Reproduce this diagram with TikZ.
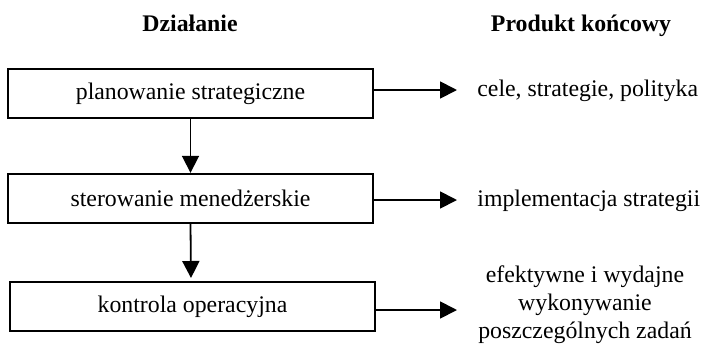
\documentclass[tikz,border=0pt]{standalone}
\usepackage{fontspec}
\setmainfont{Liberation Serif}
\usetikzlibrary{arrows.meta}
\begin{document}
\begin{tikzpicture}[x=0.5pt,y=-0.5pt,
  every node/.style={font=\fontsize{11.9}{13}\selectfont, inner sep=0pt},
  stepbox/.style={draw, line width=1.2pt, minimum width=182.5pt, minimum height=24.5pt},
  header/.style={font=\fontsize{11.9}{13}\selectfont\bfseries, anchor=base},
  arr/.style={line width=0.9pt, -{Triangle[length=8.5pt,width=8.5pt]}},
  result/.style={anchor=west}]
\useasboundingbox (0,0) rectangle (703,345);
\node[header] (h1) at (190,31) {Działanie};
\node[header] (h2) at (581,31) {Produkt końcowy};
\node[stepbox] (b1) at (190.5,93.5) {planowanie strategiczne};
\node[stepbox] (b2) at (190.5,198.5) {sterowanie menedżerskie};
\node[stepbox] (b3) at (192.5,306.5) {kontrola operacyjna};
\node[result] (t1) at (477,91) {cele, strategie, polityka};
\node[result] (t2) at (477,201) {implementacja strategii};
\node[align=center] (t3) at (585,305) {efektywne i wydajne\\[1pt]wykonywanie\\[1pt]poszczególnych zadań};
\coordinate (e1) at (457,90);
\coordinate (e2) at (457,200);
\coordinate (e3) at (457,310);
\coordinate (d2) at (191,278);
\draw[arr] (b1.south) -- (b2.north);
\draw[arr] (b2.south) -- (d2);
\draw[arr] (b1.east |- e1) -- (e1);
\draw[arr] (b2.east |- e2) -- (e2);
\draw[arr] (b3.east |- e3) -- (e3);
\end{tikzpicture}
\end{document}
